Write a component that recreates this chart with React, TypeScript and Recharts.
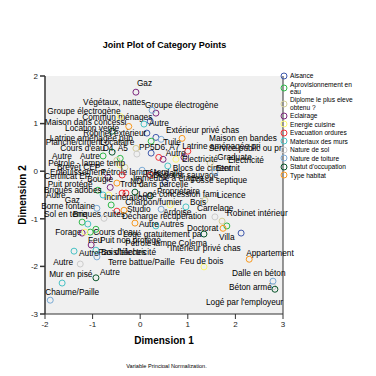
import React from 'react';
import {
  CartesianGrid,
  Label,
  ReferenceLine,
  Scatter,
  ScatterChart,
  XAxis,
  YAxis,
} from 'recharts';

const variables = [
  'Aisance',
  'Aprovisionnement en eau',
  'Diplome le plus eleve obtenu ?',
  'Eclairage',
  'Energie cuisine',
  'Evacuation ordures',
  'Materiaux des murs',
  'Nature de sol',
  'Nature de toiture',
  "Statut d'occupation",
  'Type habitat',
];

const variableColors = [
  '#3E58AC',
  '#2EB848',
  '#D3CE97',
  '#7C287D',
  '#FBF873',
  '#EF3338',
  '#48C2C5',
  '#CCCCCC',
  '#7AAAD5',
  '#0A562C',
  '#F8981D',
];

const pointLabels = [
  'Gaz', 'Végétaux, nattes', 'Groupe électrogène', 'Groupe électrogène', 'Commun ménages',
  'Maison dans concessi', 'Location vente', 'Autre', 'Robinet extérieur', 'Extérieur privé chas',
  'Latrine aménagée pub', 'Maison en bandes', 'Tuile', 'Planche/ciment', 'Locataire',
  'PP5D6, A7', "Cours d'eau", 'D4, A5', 'Latrine aménagée pri', 'Service public ou pr',
  'Autre', 'Autre', 'Autre', 'Electricité', 'Graduate',
  'Electricité', 'Pétrole - lampe temp', 'Brevet CEP', 'Blocs de ciment', 'Eternit',
  'Enfouissement', 'Pétrole lampe tem', 'Certificat EP', 'Tôle, dalle', 'Dépotoir sauvage',
  'Fosse septique', 'Bougie', 'ND', 'Trou dans parcelle', 'Immeuble à étages',
  'Puit protégé', 'Briques adobes', 'Propriétaire', 'Autre', 'Logé concession fami',
  'Licence', 'Gaz', 'Incinération', 'Charbon/fumier', 'Bois',
  'Carrelage', 'Studio', 'Borne fontaine', 'Ardoise', 'Robinet intérieur',
  'Sol en terre', 'Briques cuites', 'Décharge récupération', 'Autre', 'Autres',
  'Doctorat', 'Villa', 'Intérieur privé chas', 'Logé gratuitement pa', 'Forage',
  "Cours d'eau", 'Feu', 'Puit non protégé', 'Pétrole lampe Colema', "Pas d'électricité",
  'Bois/bâches', 'Autre', 'Terre battue/Paille', 'Feu de bois', 'Autre',
  'Autre', 'Mur en pisé', 'Chaume/Paille', 'Appartement', 'Dalle en béton',
  'Béton armé', "Logé par l'employeur",
];

const dim1 = [
  -0.09, 0.25, 0.33, -0.42, 0.21,
  -0.24, -0.59, 0.08, 0.23, 0.33,
  0.14, 0.88, 0.44, -0.07, -0.59,
  -0.09, -0.42, -0.49, 0.23, 1.0,
  0.39, -0.78, 0.48, 0.75, 1.47,
  0.92, -0.42, -0.32, 0.58, 1.57,
  -0.38, -0.68, -0.84, 0.04, 0.21,
  0.52, -0.63, 0.02, -0.3, -0.49,
  -0.89, -0.78, -0.11, -0.91, 0.21,
  1.36, -0.66, -0.38, 0.63, 0.96,
  1.57, -0.34, -0.61, 0.44, 1.82,
  -0.76, -1.1, -0.49, -0.11, 0.33,
  1.72, 1.74, 2.12, 1.34, -1.05,
  -1.22, -1.16, -0.93, -1.22, -1.03,
  -0.93, -1.39, -0.91, 1.34, -1.26,
  -0.93, -1.64, -1.89, 2.29, 2.79,
  2.79, 2.83,
];

const dim2 = [
  1.66, 1.28, 1.22, 1.15, 1.05,
  0.94, 0.84, 0.99, 0.63, 0.71,
  0.8, 0.69, 0.67, 0.36, 0.4,
  0.48, 0.27, 0.23, 0.38, 0.42,
  0.29, 0.32, 0.25, 0.25, 0.17,
  0.29, 0.13, 0.08, 0.11, -0.02,
  -0.08, -0.13, -0.15, 0.02, -0.08,
  -0.23, -0.34, -0.27, -0.46, -0.25,
  -0.4, -0.5, -0.44, -0.78, -0.52,
  -0.61, -0.5, -0.46, -0.71, -0.75,
  -0.96, -0.82, -0.71, -0.8, -1.15,
  -0.99, -1.11, -0.84, -1.09, -1.15,
  -1.05, -1.2, -1.3, -1.32, -1.28,
  -1.07, -1.28, -1.22, -1.3, -1.55,
  -1.66, -1.68, -1.8, -2.01, -1.95,
  -2.24, -2.35, -2.71, -1.85, -2.31,
  -2.43, -2.48,
];

// index into variables
const pointVariable = [
  3, 8, 3, 4, 0,
  10, 9, 6, 1, 0,
  0, 10, 8, 7, 9,
  2, 1, 2, 0, 5,
  5, 1, 3, 4, 2,
  3, 4, 2, 6, 8,
  5, 3, 2, 8, 5,
  0, 3, 2, 5, 10,
  1, 6, 9, 8, 9,
  2, 4, 5, 4, 6,
  7, 10, 1, 8, 1,
  7, 6, 5, 10, 6,
  2, 10, 0, 9, 1,
  1, 4, 1, 3, 3,
  6, 6, 8, 4, 7,
  9, 6, 8, 10, 8,
  7, 9,
];

// label placement relative to the marker, in px
const labelNudges: [number, number][] = [
  [1, -9], [-69, -8], [-11, -8], [-73, -5], [-68, -4],
  [-84, -4], [-47, -3], [5, -1], [-68, -8], [10, -7],
  [-97, 5], [27, 0], [2, 3], [-91, -12], [-12, -10],
  [3, -1], [-60, -10], [-14, -12], [31, -7], [21, -3],
  [7, -4], [-51, 0], [-83, -3], [6, 0], [7, -6],
  [44, 3], [-72, -2], [-68, 0], [5, 2], [1, -4],
  [-72, -3], [-7, -5], [-56, -2], [2, 3], [3, 0],
  [26, -2], [-23, -8], [-11, -3], [-6, -9], [16, -5],
  [-50, -6], [-59, -5], [22, -1], [-51, -13], [-12, -2],
  [12, -5], [-44, 5], [-18, 4], [-45, -3], [4, -5],
  [-18, -9], [3, -1], [-70, 1], [2, 3], [0, -13],
  [-60, -4], [-15, -10], [5, 5], [4, 1], [4, -2],
  [-35, 7], [-4, 9], [-71, 15], [-81, 0], [-35, 0],
  [11, 10], [3, 8], [4, 11], [43, 10], [7, 7],
  [5, 2], [5, 2], [11, 5], [-24, -6], [-27, -2],
  [4, -6], [-13, -9], [-5, -8], [-3, -6], [-41, -8],
  [-44, 0], [-69, 13],
];

const dimTicks1 = [-2, -1, 0, 1, 2, 3];
const dimTicks2 = [-3, -2, -1, 0, 1, 2];

const FONT = '"Liberation Sans", Arial, sans-serif';

const series = variables.map((name, v) => ({
  name,
  color: variableColors[v],
  points: pointLabels
    .map((label, i) => ({ label, x: dim1[i], y: dim2[i], nudge: labelNudges[i], v: pointVariable[i] }))
    .filter((p) => p.v === v),
}));

function CategoryPoint(props: any) {
  const { cx, cy, payload, color } = props;
  if (cx == null || cy == null) return null;
  const [dx, dy] = payload.nudge;
  return (
    <g>
      <circle cx={cx} cy={cy} r={3} fill="none" stroke={color} strokeWidth={1} />
      <text
        x={cx + dx}
        y={cy + dy}
        dominantBaseline="central"
        fontSize={8.3}
        fontFamily={FONT}
        fill="#000"
      >
        {payload.label}
      </text>
    </g>
  );
}

function VariableLegend() {
  return (
    <div style={{ position: 'absolute', top: 72, left: 280, width: 92, fontFamily: FONT }}>
      {series.map((s) => (
        <div key={s.name} style={{ display: 'flex', alignItems: 'center', marginBottom: 0.5 }}>
          <svg width={8} height={8} style={{ flex: 'none', display: 'block' }}>
            <circle cx={4} cy={4} r={3} fill="none" stroke={s.color} strokeWidth={1} />
          </svg>
          <span style={{ fontSize: 6.6, lineHeight: '7.6px', marginLeft: 2, width: 70, color: '#000' }}>
            {s.name}
          </span>
        </div>
      ))}
    </div>
  );
}

export default function App() {
  return (
    <div style={{ position: 'relative', width: 376, height: 376, margin: -8, background: '#fff' }}>
      <div
        style={{
          position: 'absolute',
          top: 40,
          left: 0,
          width: 329,
          textAlign: 'center',
          fontFamily: FONT,
          fontWeight: 'bold',
          fontSize: 9,
          lineHeight: '10px',
        }}
      >
        Joint Plot of Category Points
      </div>
      <ScatterChart width={376} height={376} margin={{ top: 76, right: 93, bottom: 32, left: 5 }}>
        <CartesianGrid horizontal={false} vertical={false} fill="#f0f0f0" />
        <XAxis
          type="number"
          dataKey="x"
          domain={[-2, 3]}
          ticks={dimTicks1}
          height={30}
          stroke="#333"
          tickSize={5}
          tick={{ fontSize: 8, fill: '#222', fontFamily: FONT }}
        >
          <Label
            value="Dimension 1"
            position="insideBottom"
            offset={0}
            style={{ fontSize: 10, fontWeight: 'bold', fill: '#000', fontFamily: FONT }}
          />
        </XAxis>
        <YAxis
          type="number"
          dataKey="y"
          domain={[-3, 2]}
          ticks={dimTicks2}
          width={40}
          stroke="#333"
          strokeWidth={1.5}
          tickSize={5}
          tick={{ fontSize: 8, fill: '#222', fontFamily: FONT }}
        >
          <Label
            value="Dimension 2"
            angle={-90}
            position="insideLeft"
            offset={17}
            style={{ fontSize: 10, fontWeight: 'bold', fill: '#000', fontFamily: FONT, textAnchor: 'middle' }}
          />
        </YAxis>
        <ReferenceLine x={3} stroke="#333" />
        {series.map((s) => (
          <Scatter
            key={s.name}
            name={s.name}
            data={s.points}
            fill={s.color}
            isAnimationActive={false}
            shape={(p: any) => <CategoryPoint {...p} color={s.color} />}
          />
        ))}
      </ScatterChart>
      <VariableLegend />
      <div
        style={{
          position: 'absolute',
          top: 363,
          left: 0,
          width: 333,
          textAlign: 'center',
          fontFamily: FONT,
          fontSize: 5.6,
          lineHeight: '6px',
        }}
      >
        Variable Principal Normalization.
      </div>
    </div>
  );
}
